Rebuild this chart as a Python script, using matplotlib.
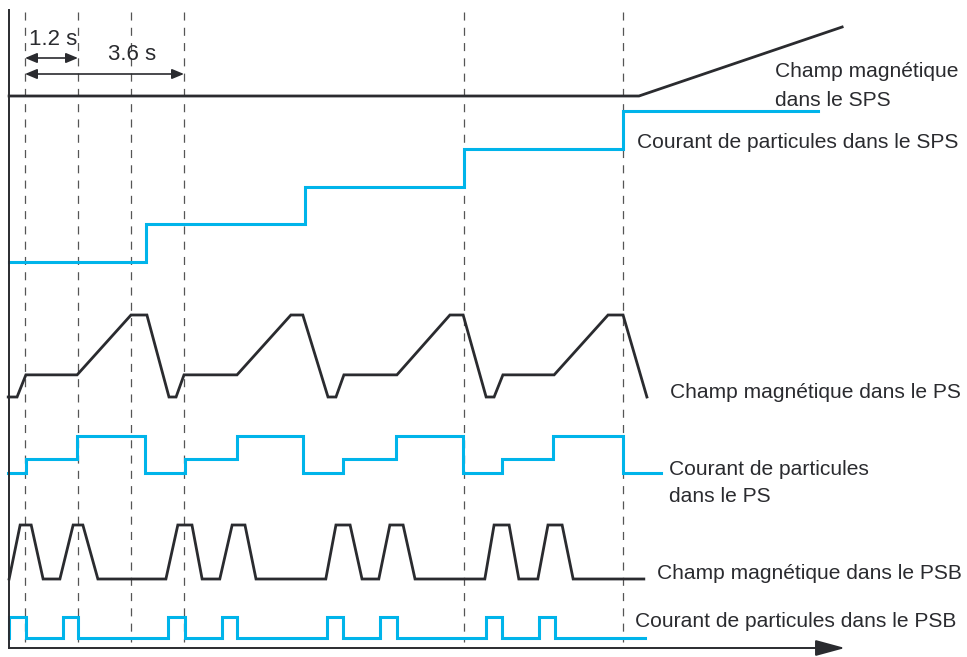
import matplotlib
matplotlib.use('Agg')
import matplotlib.pyplot as plt

# temps en secondes (0 = premiere injection), niveaux relatifs de chaque signal
temps_sps_champ = [-0.36, 13.90, 18.50]
niveau_sps_champ = [0, 0, 1]

temps_sps_courant = [-0.36, 2.74, 6.34, 9.94, 13.54, 17.95]
niveau_sps_courant = [0, 1, 2, 3, 4, 4]

temps_ps_champ = [-0.38, -0.18, 0.02, 1.18, 2.40, 2.76, 3.26, 3.42, 3.60, 4.80, 6.02, 6.29,
                  6.86, 7.04, 7.22, 8.42, 9.62, 9.92, 10.44, 10.62, 10.82, 11.98, 13.20, 13.54, 14.08]
niveau_ps_champ = [0, 0, 0.27, 0.27, 1, 1, 0, 0, 0.27, 0.27, 1, 1,
                   0, 0, 0.27, 0.27, 1, 1, 0, 0, 0.27, 0.27, 1, 1, 0]

temps_ps_courant = [-0.38, 0.02, 1.18, 2.72, 3.62, 4.80, 6.29, 7.20, 8.40, 9.92, 10.80, 11.95, 13.54, 14.40]
niveau_ps_courant = [0, 0.38, 1, 0, 0.38, 1, 0, 0.38, 1, 0, 0.38, 1, 0, 0]

temps_psb_champ = [-0.36, -0.11, 0.14, 0.41, 0.79, 1.09, 1.31, 1.65,
                   3.19, 3.46, 3.78, 4.01, 4.41, 4.69, 4.98, 5.23,
                   6.81, 7.04, 7.36, 7.63, 8.01, 8.26, 8.56, 8.83,
                   10.41, 10.62, 10.96, 11.18, 11.61, 11.84, 12.16, 12.41, 14.01]
niveau_psb_champ = [0, 1, 1, 0] * 8 + [0]

temps_psb_courant = [-0.36, -0.36, 0.02, 0.86, 1.20, 3.24, 3.62, 4.46, 4.80,
                     6.84, 7.20, 8.04, 8.42, 10.44, 10.80, 11.64, 12.00, 14.04]
niveau_psb_courant = [0, 1, 0, 1, 0, 1, 0, 1, 0, 1, 0, 1, 0, 1, 0, 1, 0, 0]

temps_reperes = [0, 1.2, 2.4, 3.6, 9.94, 13.54]

noir = '#2a2b2f'
bleu = '#00b4ea'

# conversion pixel -> secondes pour placer les textes
def px(x):
    return (x - 25) / 44.17

def trace(ax, t, niv, base, haut, couleur, lw, steps=False):
    y = [base - n * haut for n in niv]
    if steps:
        ax.plot(t, y, color=couleur, lw=lw, drawstyle='steps-post', solid_joinstyle='miter')
    else:
        ax.plot(t, y, color=couleur, lw=lw, solid_joinstyle='miter')

plt.rcParams['lines.scale_dashes'] = False
police = ['Liberation Sans', 'DejaVu Sans']

fig = plt.figure(figsize=(9.67, 6.57), dpi=100)
ax = fig.add_axes([0, 0, 1, 1])
ax.set_xlim(px(0), px(967))
ax.set_ylim(657, 0)
ax.axis('off')

# lignes pointillees verticales
for t in temps_reperes:
    ax.plot([t, t], [12, 642], color='#555555', lw=0.9, dashes=(5.8, 5.2))

# signaux
trace(ax, temps_sps_champ, niveau_sps_champ, 96, 69, noir, 2.0)
trace(ax, temps_sps_courant, niveau_sps_courant, 262, 37.75, bleu, 2.2, steps=True)
trace(ax, temps_ps_champ, niveau_ps_champ, 397, 82, noir, 2.0)
trace(ax, temps_ps_courant, niveau_ps_courant, 473, 37, bleu, 2.2, steps=True)
trace(ax, temps_psb_champ, niveau_psb_champ, 579, 54, noir, 2.0)
trace(ax, temps_psb_courant, niveau_psb_courant, 638, 21, bleu, 2.2, steps=True)

# axes
ax.plot([px(9), px(9)], [10, 648], color=noir, lw=1.4)
ax.annotate('', xy=(px(845), 648), xytext=(px(9), 648),
            arrowprops=dict(arrowstyle='-|>,head_length=1.4,head_width=0.38', mutation_scale=13,
                            lw=1.4, color=noir, shrinkA=0, shrinkB=0))

# durees
fl = dict(arrowstyle='<|-|>,head_length=0.6,head_width=0.25', mutation_scale=12,
          lw=1.2, color=noir, shrinkA=0, shrinkB=0)
ax.annotate('', xy=(1.2, 58), xytext=(0, 58), arrowprops=fl)
ax.annotate('', xy=(3.6, 74), xytext=(0, 74), arrowprops=fl)
ax.text(px(29), 45, '1.2 s', fontsize=16, color=noir, va='baseline', family=police)
ax.text(px(108), 60, '3.6 s', fontsize=16, color=noir, va='baseline', family=police)

# etiquettes
etiq = dict(fontsize=15.1, color=noir, va='baseline', family=police)
ax.text(px(775), 77, 'Champ magnétique', **etiq)
ax.text(px(775), 106, 'dans le SPS', **etiq)
ax.text(px(637), 148, 'Courant de particules dans le SPS', **etiq)
ax.text(px(670), 398, 'Champ magnétique dans le PS', **etiq)
ax.text(px(669), 475, 'Courant de particules', **etiq)
ax.text(px(669), 502, 'dans le PS', **etiq)
ax.text(px(657), 579, 'Champ magnétique dans le PSB', **etiq)
ax.text(px(635), 627, 'Courant de particules dans le PSB', **etiq)

fig.savefig('out.png', dpi=100)
